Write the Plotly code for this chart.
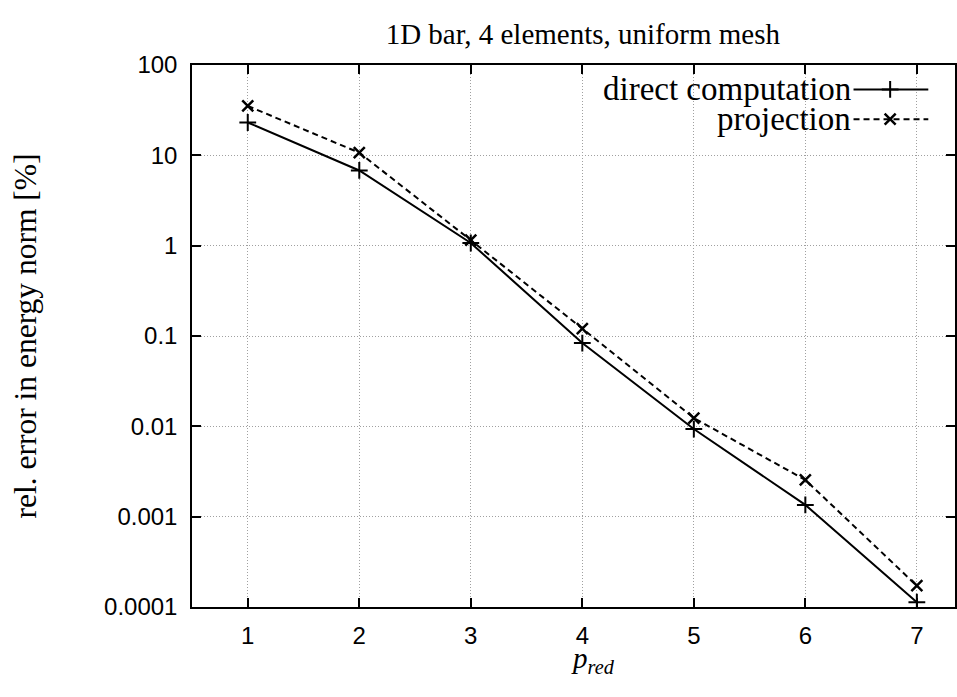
import plotly.graph_objects as go

p_red = [1, 2, 3, 4, 5, 6, 7]
direct_computation = [23.1, 6.8, 1.07, 0.0836, 0.00933, 0.00135, 0.000113]
projection = [35.2, 10.7, 1.15, 0.121, 0.01236, 0.00255, 0.000172]
y_tick_vals = [100, 10, 1, 0.1, 0.01, 0.001, 0.0001]
y_tick_text = ["100", "10", "1", "0.1", "0.01", "0.001", "0.0001"]
x_tick_vals = [1, 2, 3, 4, 5, 6, 7]

serif = "Liberation Serif"
sans = "Liberation Sans"
DASH = "6px,4px"

fig = go.Figure()
fig.add_trace(go.Scatter(
    x=p_red, y=direct_computation, mode="lines+markers", name="direct computation",
    line=dict(color="black", width=2),
    marker=dict(symbol="cross-thin", size=12, line=dict(color="black", width=2)),
    showlegend=False))
fig.add_trace(go.Scatter(
    x=p_red, y=projection, mode="lines+markers", name="projection",
    line=dict(color="black", width=2, dash=DASH),
    marker=dict(symbol="x-thin", size=11, line=dict(color="black", width=2.5)),
    showlegend=False))

# legend samples on an overlay axis in [0,1]
fig.add_trace(go.Scatter(
    x=[0.867, 0.965], y=[0.955, 0.955], xaxis="x2", yaxis="y2", mode="lines",
    line=dict(color="black", width=2), showlegend=False, hoverinfo="skip"))
fig.add_trace(go.Scatter(
    x=[0.915], y=[0.955], xaxis="x2", yaxis="y2", mode="markers",
    marker=dict(symbol="cross-thin", size=12, line=dict(color="black", width=2)),
    showlegend=False, hoverinfo="skip"))
fig.add_trace(go.Scatter(
    x=[0.867, 0.965], y=[0.9, 0.9], xaxis="x2", yaxis="y2", mode="lines",
    line=dict(color="black", width=2, dash=DASH), showlegend=False, hoverinfo="skip"))
fig.add_trace(go.Scatter(
    x=[0.915], y=[0.9], xaxis="x2", yaxis="y2", mode="markers",
    marker=dict(symbol="x-thin", size=11, line=dict(color="black", width=2.5)),
    showlegend=False, hoverinfo="skip"))

fig.add_annotation(x=0.866, y=0.955, xref="x2", yref="y2", text="direct computation",
                   showarrow=False, xanchor="right", yanchor="middle",
                   font=dict(family=serif, size=33, color="black"))
fig.add_annotation(x=0.866, y=0.9, xref="x2", yref="y2", text="projection",
                   showarrow=False, xanchor="right", yanchor="middle",
                   font=dict(family=serif, size=33, color="black"))

# x-axis title
fig.add_annotation(x=0.525, y=-0.097, xref="x2", yref="paper",
                   text="<i>p</i><sub><i>red</i></sub>",
                   showarrow=False, xanchor="center", yanchor="middle",
                   font=dict(family=serif, size=29, color="black"))

fig.update_layout(
    width=957, height=697,
    margin=dict(l=192, r=0, t=65, b=90),
    paper_bgcolor="white", plot_bgcolor="white",
    title=dict(text="1D bar, 4 elements, uniform mesh", x=0.609, xanchor="center",
               y=0.952, yanchor="middle",
               font=dict(family=serif, size=29, color="black")),
    xaxis=dict(
        range=[0.5, 7.342], tickvals=x_tick_vals, ticks="inside", ticklen=9,
        tickwidth=1.5, tickcolor="black",
        showline=True, linecolor="black", linewidth=1.5, mirror="ticks",
        showgrid=True, gridcolor="#a0a0a0", griddash="1px,2px", gridwidth=1,
        zeroline=False,
        tickfont=dict(family=sans, size=24, color="black"),
        ticklabelstandoff=6,
    ),
    yaxis=dict(
        type="log", range=[-4, 2], tickvals=y_tick_vals, ticktext=y_tick_text,
        ticks="inside", ticklen=9, tickwidth=1.5, tickcolor="black",
        showline=True, linecolor="black", linewidth=1.5, mirror="ticks",
        showgrid=True, gridcolor="#a0a0a0", griddash="1px,2px", gridwidth=1,
        zeroline=False,
        tickfont=dict(family=sans, size=24, color="black"),
        ticklabelstandoff=8,
        title=dict(text="rel. error in energy norm [%]", standoff=58,
                   font=dict(family=serif, size=31.5, color="black")),
    ),
    xaxis2=dict(range=[0, 1], overlaying="x", visible=False, fixedrange=True),
    yaxis2=dict(range=[0, 1], overlaying="y", visible=False, fixedrange=True),
)

fig.write_html("out.html")
